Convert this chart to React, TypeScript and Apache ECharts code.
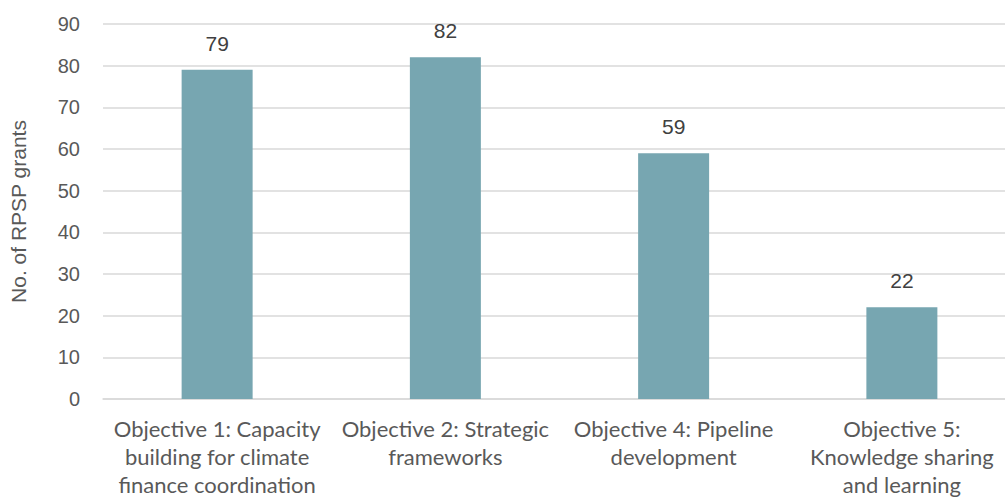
import React, { useEffect, useRef } from "react";
import * as echarts from "echarts";

const categories = [
  "Objective 1: Capacity\nbuilding for climate\nfinance coordination",
  "Objective 2: Strategic\nframeworks",
  "Objective 4: Pipeline\ndevelopment",
  "Objective 5:\nKnowledge sharing\nand learning",
];
const grants = [79, 82, 59, 22];

export default function App() {
  const ref = useRef<HTMLDivElement>(null);

  useEffect(() => {
    if (!ref.current) return;
    const chart = echarts.init(ref.current, null, { renderer: "svg" });
    chart.setOption({
      animation: false,
      grid: { left: 103, right: 0, top: 24, bottom: 103 },
      xAxis: {
        type: "category",
        data: categories,
        axisLine: { lineStyle: { color: "#d9d9d9", width: 1.5 } },
        axisTick: { show: false },
        axisLabel: {
          color: "#595959",
          fontFamily: "Lato",
          fontSize: 22,
          lineHeight: 28,
          margin: 15,
          interval: 0,
        },
      },
      yAxis: {
        type: "value",
        min: 0,
        max: 90,
        interval: 10,
        name: "No. of RPSP grants",
        nameLocation: "middle",
        nameGap: 74,
        nameTextStyle: {
          color: "#595959",
          fontFamily: "Liberation Sans",
          fontSize: 21,
        },
        axisLine: { show: false },
        axisTick: { show: false },
        splitLine: { lineStyle: { color: "#d9d9d9", width: 1.5 } },
        axisLabel: {
          color: "#595959",
          fontFamily: "Liberation Sans",
          fontSize: 20,
          margin: 23,
        },
      },
      series: [
        {
          type: "bar",
          data: grants,
          barWidth: 71,
          itemStyle: { color: "#77a6b1" },
          label: {
            show: true,
            position: "top",
            distance: 16,
            color: "#404040",
            fontFamily: "Liberation Sans",
            fontSize: 21,
          },
        },
      ],
    });
    return () => chart.dispose();
  }, []);

  return (
    <div
      style={{
        position: "absolute",
        left: 0,
        top: 0,
        width: 1005,
        height: 502,
        overflow: "hidden",
      }}
    >
      <div ref={ref} style={{ width: 1016, height: 502 }} />
    </div>
  );
}
